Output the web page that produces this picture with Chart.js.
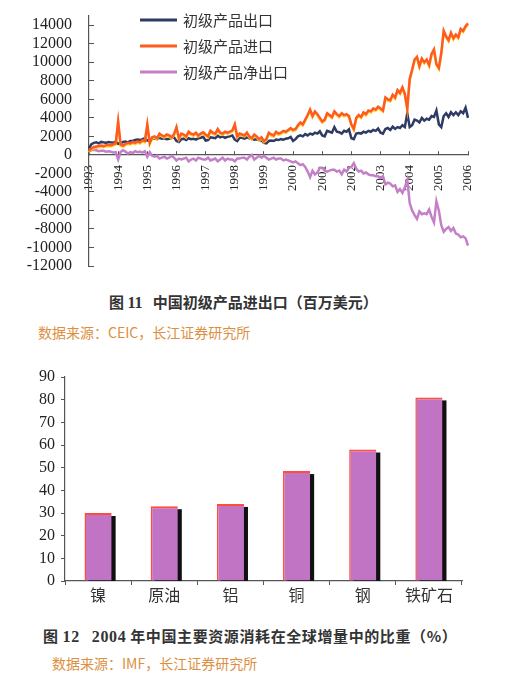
<!DOCTYPE html>
<html>
<head>
<meta charset="utf-8">
<script src="https://cdn.jsdelivr.net/npm/chart.js@4.4.1/dist/chart.umd.min.js"></script>
<style>
body { margin: 0; background: #fff; width: 511px; height: 676px; position: relative; overflow: hidden; }
canvas { position: absolute; left: 0; }
.cap { position: absolute; white-space: nowrap; line-height: 1; font-family: "Noto Sans CJK SC", sans-serif; }
.title { font-size: 15px; font-weight: bold; color: #333; }
.title .num { font-family: "Liberation Serif", serif; font-size: 16px; }
.src { font-size: 14px; color: #dc8f42; }
</style>
</head>
<body>
<canvas id="trade" width="511" height="282" style="top:0"></canvas>
<div class="cap title" style="top:294px;left:109px">图 <span class="num">11</span>&nbsp;&nbsp;&nbsp;中国初级产品进出口（百万美元）</div>
<div class="cap src" style="top:325px;left:38px">数据来源：CEIC，长江证券研究所</div>
<canvas id="share" width="511" height="245" style="top:365px"></canvas>
<div class="cap title" style="top:628px;left:43px;letter-spacing:0.6px">图 <span class="num">12</span>&nbsp;&nbsp;&nbsp;<span class="num">2004</span> 年中国主要资源消耗在全球增量中的比重（%）</div>
<div class="cap src" style="top:656px;left:52px">数据来源：IMF，长江证券研究所</div>
<script>
// months Jan 1993 .. Jan 2006
const months = [];
for (let y = 1993; y <= 2006; y++) {
	for (let m = 1; m <= 12; m++) {
		if (y === 2006 && m > 1) break;
		months.push(y + '-' + String(m).padStart(2, '0'));
	}
}

// 初级产品出口 (million USD)
const exportVals = [
	700, 1150, 1300, 1350, 1250, 1400, 1350, 1300, 1400, 1350, 1300, 1450,
	1200, 1250, 1400, 1450, 1350, 1500, 1500, 1600, 1650, 1600, 1700, 1800,
	1550, 1600, 1750, 1800, 1700, 1850, 1750, 1800, 1700, 1750, 1850, 1900,
	1500, 1400, 1700, 1750, 1600, 1800, 1700, 1750, 1650, 1800, 1850, 1950,
	1550, 1600, 1900, 1850, 1800, 2050, 1900, 2000, 1850, 1950, 2000, 2100,
	1650, 1500, 1850, 1850, 1750, 1900, 1800, 1750, 1650, 1700, 1600, 1550,
	1300, 1250, 1500, 1550, 1500, 1650, 1600, 1700, 1650, 1750, 1800, 1950,
	1500, 1700, 2000, 2100, 2000, 2250, 2100, 2300, 2200, 2400, 2300, 2550,
	2100, 2000, 2600, 2500, 2400, 3000, 2500, 2450, 2300, 2600, 2500, 2750,
	1800, 1700, 2300, 2350, 2300, 2500, 2400, 2600, 2500, 2700, 2600, 2850,
	2400, 2300, 2800, 2900, 2700, 3050, 2800, 3000, 2900, 3200, 3000, 4500,
	3000, 3200, 3800, 3700, 3500, 4000, 3700, 3900, 3800, 4200, 4100, 4800,
	3300, 3000, 4200, 4500, 4100, 4600, 4300, 4600, 4300, 4700, 4500, 5100,
	4000
];
// 初级产品进口
const importVals = [
	400, 700, 850, 900, 950, 1000, 950, 1050, 1100, 1050, 1150, 1250,
	3600, 1100, 1000, 1200, 1300, 1250, 1400, 1300, 1450, 1350, 1600, 1500,
	3300, 1300, 1900, 2000, 1800, 2300, 2100, 2000, 2200, 2100, 1900, 2250,
	3000, 1800, 2300, 2200, 2000, 2500, 2300, 2200, 2400, 2100, 2300, 2450,
	2200, 2000, 2600, 2400, 2300, 2800, 2400, 2300, 2500, 2400, 2500, 2650,
	3300, 2000, 2300, 2200, 2100, 2400, 2000, 1800, 2200, 2000, 1700, 1900,
	1500, 1700, 2400, 2200, 2100, 2500, 2300, 2400, 2600, 2500, 2700, 2900,
	2700, 2800, 3200, 3500, 3300, 3800, 4300, 4900, 4200, 4700, 4400, 4000,
	3600, 3800, 4500, 4300, 4100, 4700, 4400, 4200, 4500, 4300, 4400, 4200,
	3300, 2800, 4000, 4300, 4100, 4600, 4400, 4800, 4700, 5000, 4900, 5200,
	5000, 4800, 6200, 6000, 5900, 6500, 6200, 7000, 6700, 7300, 6600, 5000,
	8200, 9200, 10300, 10600, 9600, 10400, 10000, 10300, 9700, 10900, 11400, 9800,
	9400, 11000, 13400, 12800, 12400, 13200, 12600, 13000, 12700, 13600, 13400, 13900,
	14200
];
// 初级产品净出口
const netVals = [
	400, 500, 550, 500, 400, 450, 450, 350, 400, 350, 250, 300,
	-500, 300, 500, 350, 150, 300, 200, 400, 300, 350, 250, 400,
	-200, 300, -100, -200, -100, -400, -300, -200, -400, -300, -100, -300,
	-600, -400, -500, -400, -300, -700, -500, -400, -600, -300, -400, -500,
	-500, -300, -600, -500, -400, -700, -500, -300, -600, -400, -500, -500,
	-700, -400, -400, -300, -300, -500, -200, 0, -500, -300, -100, -300,
	-100, -300, -500, -400, -300, -500, -400, -400, -600, -500, -600, -700,
	-800, -700, -900, -1100, -1000, -1300, -1800, -2400, -1700, -2100, -1900, -1400,
	-1400, -1700, -1800, -1700, -1600, -1600, -1800, -1700, -2100, -1600, -1800, -1400,
	-1300, -900, -1500, -1800, -1700, -2000, -1900, -2100, -2200, -2200, -2300, -2300,
	-2500, -2300, -3200, -3000, -3100, -3400, -3300, -4000, -3700, -4100, -3500, -2700,
	-5200, -6000, -6500, -6900, -6100, -6400, -6300, -6400, -5900, -6700, -7300, -5000,
	-6000, -7600, -8300, -8000, -7800, -8200, -7900, -8500, -8600, -8900, -8800, -9000,
	-9800
];
const tradeNames = ['初级产品出口', '初级产品进口', '初级产品净出口'];

// 2004 share of global consumption increase (%)
const resources = ['镍', '原油', '铝', '铜', '钢', '铁矿石'];
const shareVals = [30, 33, 34, 48.5, 58, 81];

const serif = '"Liberation Serif", "DejaVu Serif", serif';
const cjk = '"Noto Sans CJK SC", sans-serif';

const insideLegend = {
	id: 'insideLegend',
	afterDraw(chart) {
		const ctx = chart.ctx;
		ctx.save();
		chart.data.datasets.forEach((ds, i) => {
			const y = 20 + i * 26;
			ctx.strokeStyle = ds.borderColor;
			ctx.lineWidth = 3;
			ctx.beginPath();
			ctx.moveTo(140, y);
			ctx.lineTo(177, y);
			ctx.stroke();
			ctx.fillStyle = '#333';
			ctx.font = '15px ' + cjk;
			ctx.textBaseline = 'middle';
			ctx.fillText(ds.label, 183, y);
		});
		ctx.restore();
	}
};

const importGlow = {
	id: 'importGlow',
	beforeDatasetDraw(chart, args) {
		if (args.index !== 1) return;
		chart.ctx.save();
		chart.ctx.shadowColor = 'rgba(255,205,40,0.9)';
		chart.ctx.shadowBlur = 0;
		chart.ctx.shadowOffsetY = 1.2;
	},
	afterDatasetDraw(chart, args) {
		if (args.index === 1) chart.ctx.restore();
	}
};

new Chart(document.getElementById('trade').getContext('2d'), {
	type: 'line',
	data: {
		labels: months,
		datasets: [
			{ label: tradeNames[0], data: exportVals, borderColor: '#2f3b63', borderWidth: 2.5, pointRadius: 0, order: 1 },
			{ label: tradeNames[1], data: importVals, borderColor: '#ff5a1f', borderWidth: 2.5, pointRadius: 0, order: 0 },
			{ label: tradeNames[2], data: netVals, borderColor: '#c57fc8', borderWidth: 2.5, pointRadius: 0, order: 2 }
		]
	},
	options: {
		responsive: false,
		animation: false,
		layout: { padding: { left: 0, right: 43, top: 16, bottom: 16 } },
		plugins: { legend: { display: false }, tooltip: { enabled: false } },
		scales: {
			x: {
				position: { y: 0 },
				grid: { display: true, drawOnChartArea: false, drawTicks: true, tickLength: -4, color: '#555' },
				border: { color: '#555', width: 1.2 },
				ticks: {
					autoSkip: false, maxRotation: 90, minRotation: 90, padding: 14,
					color: '#222', font: { family: serif, size: 13 },
					callback: (v, i) => months[i].endsWith('-01') ? months[i].slice(0, 4) : null
				}
			},
			y: {
				min: -12000, max: 15000,
				grid: { display: true, drawOnChartArea: false, drawTicks: true, tickLength: -5, color: '#555' },
				border: { color: '#555', width: 1.2 },
				ticks: {
					stepSize: 1000, autoSkip: false, padding: 22, color: '#222', font: { family: serif, size: 16 },
					callback: v => (v % 2000 === 0 && v <= 14000) ? String(v) : null
				},
				afterFit(scale) {
					scale.width = 89;
					scale.paddingTop = 0;
					scale.paddingBottom = 0;
				}
			}
		}
	},
	plugins: [insideLegend, importGlow]
});

// black drop shadow behind each bar, taken from the bar elements' own geometry
const barShadow = {
	id: 'barShadow',
	beforeDatasetsDraw(chart) {
		const ctx = chart.ctx;
		const area = chart.chartArea;
		ctx.save();
		ctx.beginPath();
		ctx.rect(area.left, area.top, area.right - area.left, area.bottom - area.top);
		ctx.clip();
		ctx.fillStyle = '#111';
		chart.getDatasetMeta(0).data.forEach(bar => {
			const p = bar.getProps(['x', 'y', 'base', 'width'], true);
			ctx.fillRect(p.x - p.width / 2 + 4, p.y + 3, p.width, p.base - p.y);
		});
		ctx.restore();
	}
};

new Chart(document.getElementById('share').getContext('2d'), {
	type: 'bar',
	data: {
		labels: resources,
		datasets: [{
			data: shareVals,
			backgroundColor: '#c173c4',
			borderColor: '#ff4d3d',
			borderWidth: { top: 2, left: 1.5, right: 0, bottom: 0 },
			borderSkipped: false,
			categoryPercentage: 1,
			barPercentage: 0.41
		}]
	},
	options: {
		responsive: false,
		animation: false,
		layout: { padding: { left: 0, right: 49, top: 12, bottom: 0 } },
		plugins: { legend: { display: false }, tooltip: { enabled: false } },
		scales: {
			x: {
				grid: { display: true, drawOnChartArea: false, tickLength: 4, color: '#555' },
				border: { color: '#555', width: 1.2 },
				ticks: { color: '#333', padding: 0, font: { family: cjk, size: 16 } },
				afterFit(scale) { scale.height = 29; }
			},
			y: {
				min: 0, max: 90,
				grid: { display: true, drawOnChartArea: false, tickLength: 4, color: '#555' },
				border: { color: '#555', width: 1.2 },
				ticks: { stepSize: 10, padding: 6, color: '#222', font: { family: serif, size: 16 } },
				afterFit(scale) {
					scale.width = 65;
					scale.paddingTop = 0;
				}
			}
		}
	},
	plugins: [barShadow]
});
</script>
</body>
</html>
